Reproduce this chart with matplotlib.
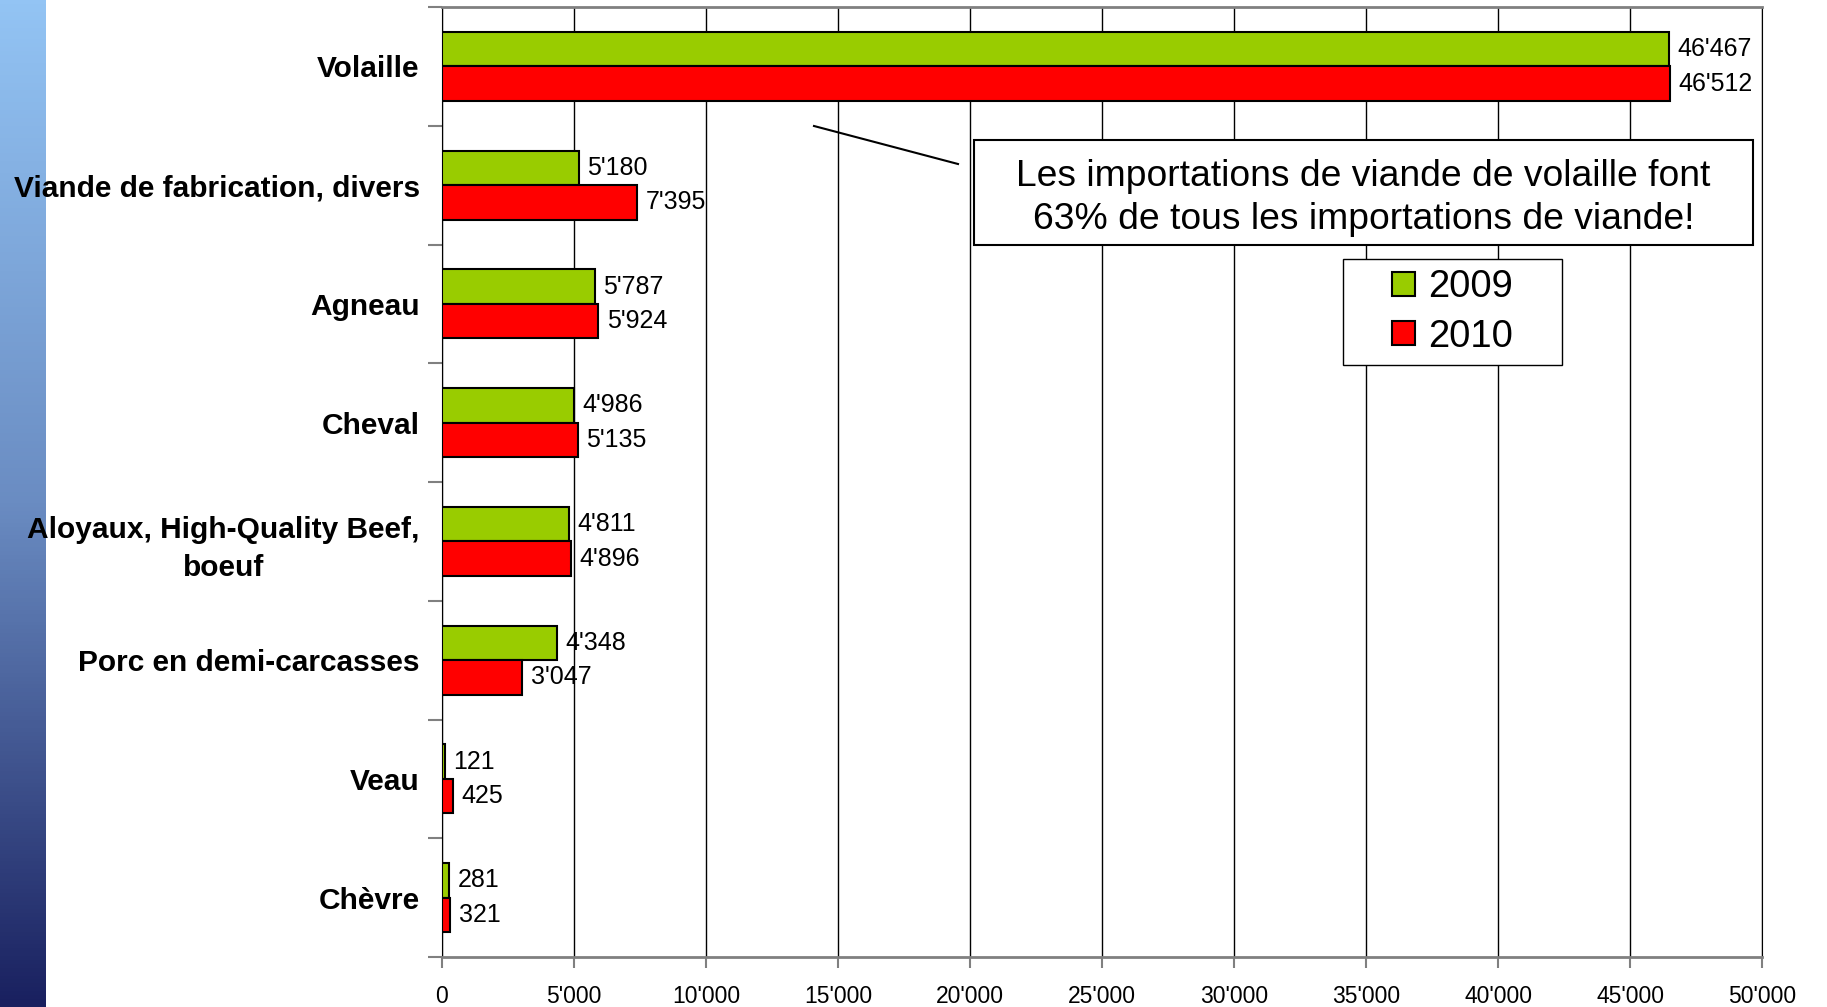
import matplotlib
matplotlib.use("Agg")
import matplotlib.pyplot as plt
import numpy as np
from matplotlib.colors import LinearSegmentedColormap
from matplotlib.lines import Line2D
from matplotlib.patches import Rectangle

categories = ["Volaille", "Viande de fabrication, divers", "Agneau", "Cheval",
              "Aloyaux, High-Quality Beef,\nboeuf", "Porc en demi-carcasses", "Veau", "Chèvre"]
val_2009 = [46467, 5180, 5787, 4986, 4811, 4348, 121, 281]
val_2010 = [46512, 7395, 5924, 5135, 4896, 3047, 425, 321]
xticks = [0, 5000, 10000, 15000, 20000, 25000, 30000, 35000, 40000, 45000, 50000]

plt.rcParams['font.family'] = ['Liberation Sans', 'DejaVu Sans']

def fmt(v):
    return "{:,}".format(v).replace(",", "'")

fig = plt.figure(figsize=(18.27, 10.07), dpi=100)

# bande dégradée à gauche
axg = fig.add_axes([0, 0, 46 / 1827, 1])
cmap = LinearSegmentedColormap.from_list("bande", ["#93c4f4", "#6a8cc2", "#19205f"])
axg.imshow(np.linspace(0, 1, 256).reshape(-1, 1), aspect="auto", cmap=cmap)
axg.axis("off")

ax = fig.add_axes([442 / 1827, 1 - 957 / 1007, 1320 / 1827, 950 / 1007])
y = np.arange(len(categories))
h = 0.29
b1 = ax.barh(y - h / 2, val_2009, height=h, color="#99cc00", edgecolor="black", linewidth=1.5, label="2009", zorder=3)
b2 = ax.barh(y + h / 2, val_2010, height=h, color="#ff0000", edgecolor="black", linewidth=1.5, label="2010", zorder=3)
ax.bar_label(b1, labels=[fmt(v) for v in val_2009], padding=6, fontsize=18)
ax.bar_label(b2, labels=[fmt(v) for v in val_2010], padding=6, fontsize=18)

ax.set_xlim(0, 50000)
ax.set_ylim(len(categories) - 0.5, -0.5)
ax.set_xticks(xticks)
ax.set_xticklabels([fmt(v) for v in xticks], fontsize=16.5,
                   family=['Liberation Sans Narrow', 'Liberation Sans'])
ax.tick_params(axis="x", length=8, width=1.5, color="#808080", pad=12)
ax.set_yticks(y)
ax.set_yticklabels(categories, fontsize=21.5, fontweight="bold", multialignment="center", linespacing=1.45)
ax.tick_params(axis="y", length=0, pad=16)
ax.set_yticks(np.arange(len(categories) + 1) - 0.5, minor=True)
ax.tick_params(axis="y", which="minor", length=10, width=1.5, color="#808080")
ax.grid(axis="x", color="black", linewidth=1, zorder=0)
ax.set_axisbelow(True)
for s in ["top", "bottom"]:
    ax.spines[s].set_color("#808080")
    ax.spines[s].set_linewidth(2)
ax.spines["left"].set_color("black")
ax.spines["right"].set_color("black")

# encadré de commentaire
ax.add_patch(Rectangle((0.403, 0.749), 0.590, 0.111, transform=ax.transAxes,
                       facecolor="white", edgecolor="black", linewidth=1.5, zorder=5))
ax.text(0.698, 0.799, "Les importations de viande de volaille font\n63% de tous les importations de viande!",
        transform=ax.transAxes, ha="center", va="center", fontsize=26.8, linespacing=1.3, zorder=6)
fig.add_artist(Line2D([814 / 1827, 958 / 1827], [1 - 126 / 1007, 1 - 164 / 1007], color="black", linewidth=1.5))

# légende
ax.add_patch(Rectangle((0.6826, 0.6232), 0.1659, 0.1115, transform=ax.transAxes,
                       facecolor="white", edgecolor="black", linewidth=1, zorder=5))
leg = ax.legend(loc="center", bbox_to_anchor=(0.7655, 0.679), fontsize=27.5, frameon=False,
                handlelength=0.6, handleheight=0.6, handletextpad=0.35, borderpad=0,
                labelspacing=0.35, borderaxespad=0)
leg.set_zorder(6)

fig.savefig("out.png", dpi=100)
